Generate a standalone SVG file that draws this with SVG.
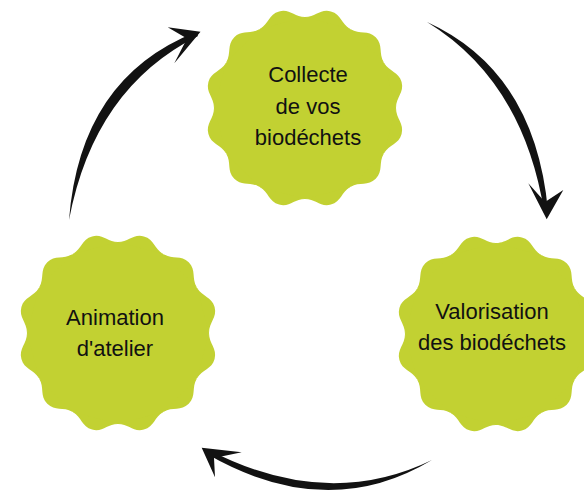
<svg xmlns="http://www.w3.org/2000/svg" xmlns:xlink="http://www.w3.org/1999/xlink" width="584" height="491" viewBox="0 0 584 491">
<style>
.blob{fill:#c2d132}
.lbl{font-family:"Liberation Sans",Arial,sans-serif;font-size:22px;fill:#111;text-anchor:middle}
.arr{fill:#121212}
</style>
<defs>
<path id="cap" d="M87.90,-23.55 C90.75,-12.92 100,-11 100,0 C100,11 90.75,12.92 87.90,23.55 Z"/>
<g id="blob">
<circle r="91"/>
<use href="#cap" transform="rotate(15)"/>
<use href="#cap" transform="rotate(45)"/>
<use href="#cap" transform="rotate(75)"/>
<use href="#cap" transform="rotate(105)"/>
<use href="#cap" transform="rotate(135)"/>
<use href="#cap" transform="rotate(165)"/>
<use href="#cap" transform="rotate(195)"/>
<use href="#cap" transform="rotate(225)"/>
<use href="#cap" transform="rotate(255)"/>
<use href="#cap" transform="rotate(285)"/>
<use href="#cap" transform="rotate(315)"/>
<use href="#cap" transform="rotate(345)"/>
</g>
</defs>
<rect width="584" height="491" fill="#fff"/>
<g id="connectors">
<g id="arrow-anim-collecte" class="arr">
<path d="M69,220 Q80,78 196,32 L198,36 Q94,88 69,220 Z"/>
<polygon points="167.7,27.3 200.5,31.7 174.3,63.3 187,38.5"/>
</g>
<g id="arrow-collecte-valo" class="arr">
<path d="M427,22 Q523,81 544,211 L548,211 Q535,71 427,22 Z"/>
<polygon points="528.3,183.3 545,202 563.3,190 546.7,219.3"/>
</g>
<g id="arrow-valo-anim" class="arr">
<path d="M432,460 Q327,523 207,454 L209,450 Q327,511 432,460 Z"/>
<polygon points="241.7,452.3 201.7,447.7 215,477.3 214,458"/>
</g>
</g>
<g id="node-collecte">
<use href="#blob" class="blob" transform="translate(305,108)"/>
<text class="lbl" x="308" y="82">Collecte</text>
<text class="lbl" x="308" y="113.5">de vos</text>
<text class="lbl" x="308" y="145">biodéchets</text>
</g>
<g id="node-valorisation">
<use href="#blob" class="blob" transform="translate(496,334)"/>
<text class="lbl" x="492" y="319">Valorisation</text>
<text class="lbl" x="492" y="350">des biodéchets</text>
</g>
<g id="node-animation">
<use href="#blob" class="blob" transform="translate(118,333)"/>
<text class="lbl" x="115" y="325">Animation</text>
<text class="lbl" x="115" y="356">d'atelier</text>
</g>
</svg>
